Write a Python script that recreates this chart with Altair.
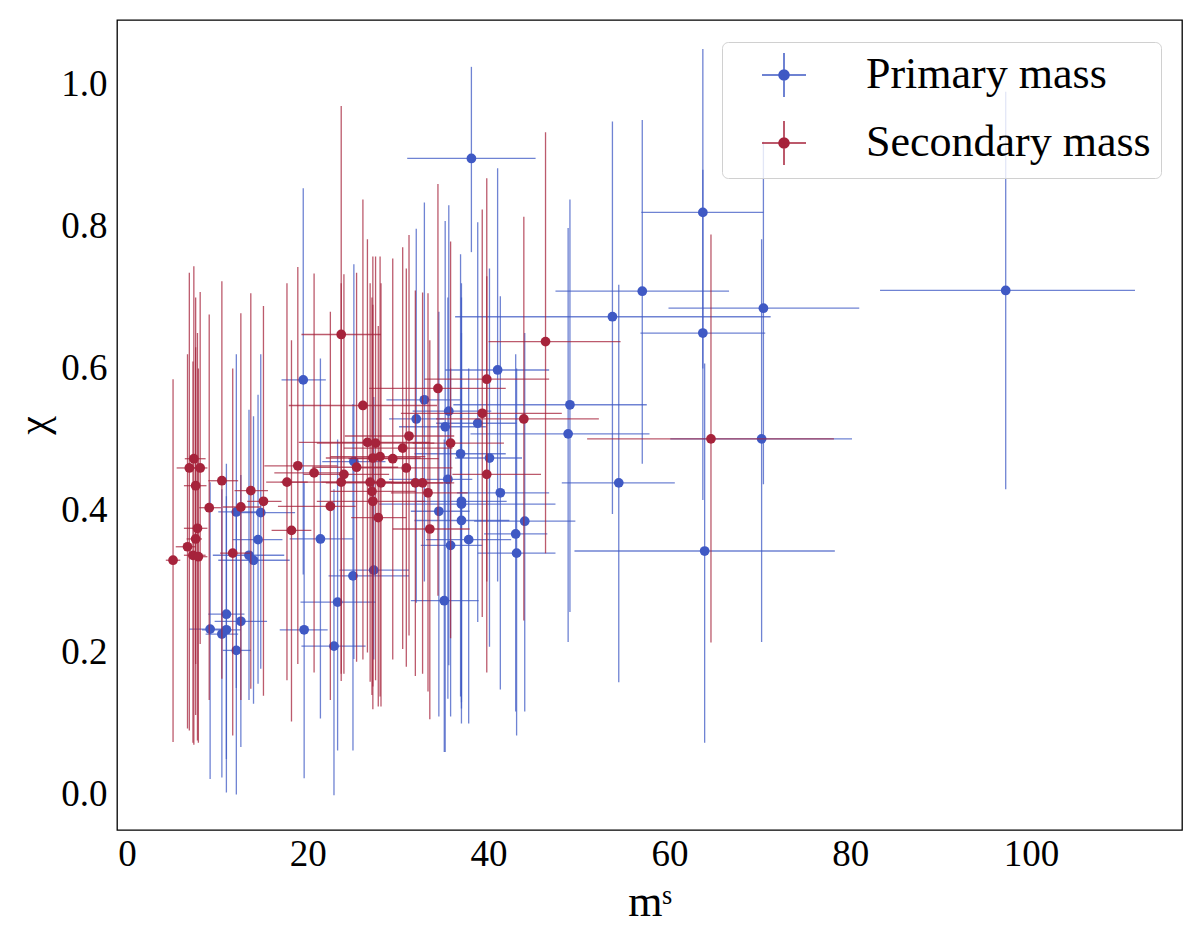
import altair as alt
import pandas as pd

# Primary mass (blue): m, chi and the ends of the error bars
p_m = [38.1, 19.5, 25.1, 12.1, 14.8, 14.5, 21.4, 13.5, 14.0, 25.0, 27.3, 23.3, 11.0, 12.6, 9.2,
       11.0, 10.5, 19.6, 22.9, 12.1, 32.0, 41.0, 32.9, 35.6, 35.2, 38.8, 36.9, 40.1, 35.5, 41.3,
       37.0, 37.0, 34.5, 44.0, 37.0, 43.0, 37.8, 35.8, 43.1, 35.1, 63.7, 57.0, 53.7, 70.4, 63.7,
       49.0, 48.8, 54.4, 70.2, 63.9, 97.2]
p_chi = [0.896, 0.584, 0.469, 0.398, 0.397, 0.359, 0.360, 0.337, 0.330, 0.308, 0.316, 0.271, 0.254,
         0.244, 0.233, 0.232, 0.226, 0.232, 0.209, 0.203, 0.529, 0.598, 0.556, 0.540, 0.518, 0.523,
         0.480, 0.474, 0.444, 0.425, 0.413, 0.409, 0.399, 0.385, 0.386, 0.367, 0.359, 0.351, 0.340,
         0.273, 0.820, 0.709, 0.673, 0.685, 0.650, 0.549, 0.508, 0.439, 0.501, 0.343, 0.710]
p_m_lo = [31.0, 17.1, 21.6, 10.1, 11.6, 11.7, 18.0, 9.5, 10.1, 22.3, 23.5, 19.2, 9.0, 9.7, 6.9,
          8.3, 8.7, 16.9, 19.3, 10.6, 29.0, 35.2, 28.7, 31.6, 30.1, 34.2, 31.8, 36.3, 29.0, 36.5,
          32.1, 27.9, 31.4, 38.4, 31.8, 39.5, 33.1, 32.5, 38.8, 31.4, 56.9, 47.4, 36.3, 59.9, 56.8,
          36.1, 38.0, 48.1, 60.1, 49.5, 83.3]
p_m_hi = [45.2, 22.0, 28.6, 14.4, 18.6, 17.2, 25.0, 17.4, 18.0, 31.2, 31.2, 27.5, 13.0, 15.5, 11.5,
          12.6, 12.3, 22.2, 26.4, 13.7, 35.1, 46.7, 36.9, 40.3, 39.7, 43.1, 41.9, 43.7, 38.2, 46.7,
          42.0, 47.4, 37.9, 49.6, 42.3, 46.5, 42.5, 39.3, 47.4, 38.9, 70.4, 66.6, 71.2, 81.0, 70.6,
          57.5, 57.8, 60.6, 80.2, 78.3, 111.5]
p_chi_lo = [0.764, 0.310, 0.191, 0.150, 0.177, 0.156, 0.107, 0.133, 0.128, 0.062, 0.190, 0.062, 0.003,
            0.067, 0.022, 0.050, 0.024, 0.023, -0.001, 0.000, 0.270, 0.300, 0.300, 0.182, 0.060, 0.243,
            0.138, 0.208, 0.135, 0.148, 0.121, 0.100, 0.110, 0.117, 0.130, 0.117, 0.100, 0.110, 0.083,
            0.060, 0.600, 0.466, 0.395, 0.437, 0.415, 0.257, 0.215, 0.158, 0.215, 0.073, 0.430]
p_chi_hi = [1.025, 0.854, 0.747, 0.620, 0.620, 0.563, 0.614, 0.542, 0.533, 0.550, 0.560, 0.500, 0.466,
            0.450, 0.440, 0.420, 0.430, 0.440, 0.430, 0.400, 0.797, 0.882, 0.834, 0.830, 0.808, 0.806,
            0.761, 0.741, 0.700, 0.702, 0.700, 0.720, 0.680, 0.650, 0.650, 0.620, 0.600, 0.600, 0.600,
            0.500, 1.050, 0.950, 0.948, 0.920, 0.880, 0.838, 0.798, 0.718, 0.782, 0.607, 0.990]

# Secondary mass (red)
s_m = [5.1, 7.4, 6.9, 8.1, 7.6, 9.1, 7.8, 7.6, 6.7, 7.3, 7.9, 10.5, 13.7, 12.6, 15.1, 11.7, 18.2,
       17.7, 18.9, 20.7, 22.5, 23.7, 26.1, 24.0, 23.7, 25.4, 26.6, 27.5, 27.2, 28.0, 29.4, 26.9,
       28.1, 27.1, 27.2, 27.8, 30.5, 31.2, 30.9, 31.9, 32.7, 33.3, 33.5, 34.4, 35.8, 39.8, 39.3,
       43.9, 39.8, 46.3, 64.6]
s_chi = [0.330, 0.473, 0.460, 0.460, 0.435, 0.404, 0.375, 0.360, 0.349, 0.337, 0.335, 0.442, 0.428,
         0.405, 0.413, 0.340, 0.372, 0.440, 0.463, 0.453, 0.406, 0.648, 0.548, 0.451, 0.440, 0.461,
         0.496, 0.495, 0.474, 0.476, 0.473, 0.440, 0.439, 0.427, 0.413, 0.390, 0.488, 0.505, 0.460,
         0.439, 0.439, 0.425, 0.374, 0.572, 0.495, 0.585, 0.537, 0.529, 0.451, 0.638, 0.501]
s_m_lo = [4.3, 6.4, 5.5, 7.0, 6.3, 8.0, 6.3, 6.6, 5.4, 6.3, 6.8, 9.0, 11.9, 10.6, 13.3, 10.3, 16.0,
          15.4, 15.2, 16.3, 16.7, 19.3, 17.9, 19.5, 17.0, 20.5, 19.0, 21.0, 22.0, 22.5, 24.5, 21.5,
          22.0, 22.5, 21.0, 24.8, 24.0, 24.1, 25.0, 26.8, 29.2, 29.2, 29.4, 26.8, 31.6, 32.9, 30.3,
          34.2, 36.0, 40.0, 50.9]
s_m_hi = [5.9, 8.7, 8.4, 8.9, 8.8, 10.4, 8.9, 8.3, 7.6, 8.7, 8.9, 12.3, 15.6, 14.8, 17.1, 13.6, 20.4,
          20.0, 23.3, 24.0, 25.3, 28.1, 34.3, 29.0, 29.5, 30.0, 33.5, 34.0, 32.5, 33.0, 34.5, 32.0,
          33.5, 32.0, 33.0, 30.9, 36.0, 36.2, 36.0, 35.0, 36.2, 37.7, 37.9, 41.9, 41.7, 46.7, 48.1,
          52.2, 45.8, 54.6, 78.2]
s_chi_lo = [0.074, 0.070, 0.090, 0.212, 0.112, 0.133, 0.076, 0.184, 0.093, 0.073, 0.073, 0.163, 0.149,
            0.133, 0.139, 0.083, 0.103, 0.161, 0.184, 0.172, 0.133, 0.170, 0.190, 0.170, 0.160, 0.187,
            0.200, 0.161, 0.152, 0.138, 0.190, 0.159, 0.124, 0.140, 0.120, 0.124, 0.205, 0.224, 0.180,
            0.167, 0.170, 0.145, 0.106, 0.280, 0.220, 0.300, 0.250, 0.245, 0.172, 0.340, 0.214]
s_chi_hi = [0.585, 0.744, 0.735, 0.708, 0.700, 0.676, 0.650, 0.630, 0.620, 0.610, 0.600, 0.723, 0.706,
            0.678, 0.688, 0.600, 0.640, 0.720, 0.743, 0.734, 0.680, 0.970, 0.838, 0.733, 0.720, 0.735,
            0.782, 0.758, 0.758, 0.758, 0.755, 0.720, 0.720, 0.700, 0.690, 0.660, 0.771, 0.788, 0.741,
            0.710, 0.707, 0.706, 0.640, 0.860, 0.779, 0.868, 0.824, 0.814, 0.730, 0.933, 0.789]

series = ["Primary mass", "Secondary mass"]
colors = ["#3f59c4", "#a6233b"]

prim = pd.DataFrame({"m": p_m, "chi": p_chi, "m_lo": p_m_lo, "m_hi": p_m_hi,
                     "chi_lo": p_chi_lo, "chi_hi": p_chi_hi, "series": series[0]})
sec = pd.DataFrame({"m": s_m, "chi": s_chi, "m_lo": s_m_lo, "m_hi": s_m_hi,
                    "chi_lo": s_chi_lo, "chi_hi": s_chi_hi, "series": series[1]})
df = pd.concat([prim, sec], ignore_index=True)

serif = "Liberation Serif"
xs = alt.Scale(domain=[-1.1, 116.7], nice=False, zero=False)
ys = alt.Scale(domain=[-0.05, 1.091], nice=False, zero=False)
# errorbar glyph for the legend: cross + dot
glyph = "M-1,0L1,0M0,-1L0,1M0.23,0A0.23,0.23,0,1,1,-0.23,0A0.23,0.23,0,1,1,0.23,0Z"
col = alt.Color("series:N", scale=alt.Scale(domain=series, range=colors),
                legend=alt.Legend(title=None, orient="none", legendX=605, legendY=22,
                                  symbolType=glyph, symbolSize=1936, symbolStrokeWidth=1.5,
                                  symbolOpacity=1, symbolOffset=29, labelOffset=59,
                                  labelFont=serif, labelFontSize=44, labelColor="black",
                                  rowPadding=18, padding=10, fillColor="rgba(255,255,255,0.8)",
                                  strokeColor="#d0d0d0", cornerRadius=6, labelLimit=400))

xax = alt.Axis(values=[0, 20, 40, 60, 80, 100], title="mˢ", grid=False, domain=False,
               ticks=False, labelPadding=6, labelFontSize=37, titleFontSize=44,
               titleFontWeight="normal", titleBaseline="alphabetic", titleY=85)
yax = alt.Axis(values=[0.0, 0.2, 0.4, 0.6, 0.8, 1.0], format=".1f", title="χ", grid=False,
               domain=False, ticks=False, labelPadding=10, labelFontSize=37, titleFontSize=42,
               titleFontWeight="normal", titleBaseline="alphabetic", titleAngle=270,
               titleX=-71, titleY=405)


def layers(name):
    b = alt.Chart(df).transform_filter(alt.datum.series == name)
    h = b.mark_rule(strokeWidth=1.3, opacity=0.75).encode(
        x=alt.X("m_lo:Q", scale=xs, axis=xax), x2="m_hi:Q",
        y=alt.Y("chi:Q", scale=ys, axis=yax), color=col)
    v = b.mark_rule(strokeWidth=1.3, opacity=0.75).encode(
        x=alt.X("m:Q", scale=xs, axis=xax),
        y=alt.Y("chi_lo:Q", scale=ys, axis=yax), y2="chi_hi:Q", color=col)
    p = b.mark_circle(size=95, opacity=1).encode(
        x=alt.X("m:Q", scale=xs, axis=xax),
        y=alt.Y("chi:Q", scale=ys, axis=yax), color=col)
    return [h, v, p]


chart = alt.layer(*layers(series[0]), *layers(series[1])).properties(
    width=1065, height=810,
    autosize=alt.AutoSizeParams(type="none"),
    padding={"left": 109, "top": 12, "right": 10, "bottom": 95},
).configure(font=serif).configure_view(
    stroke="black", strokeWidth=1.3
).configure_axis(labelFont=serif, titleFont=serif, labelColor="black", titleColor="black")

chart.save("out.html", embed_options={"renderer": "svg", "actions": False})
